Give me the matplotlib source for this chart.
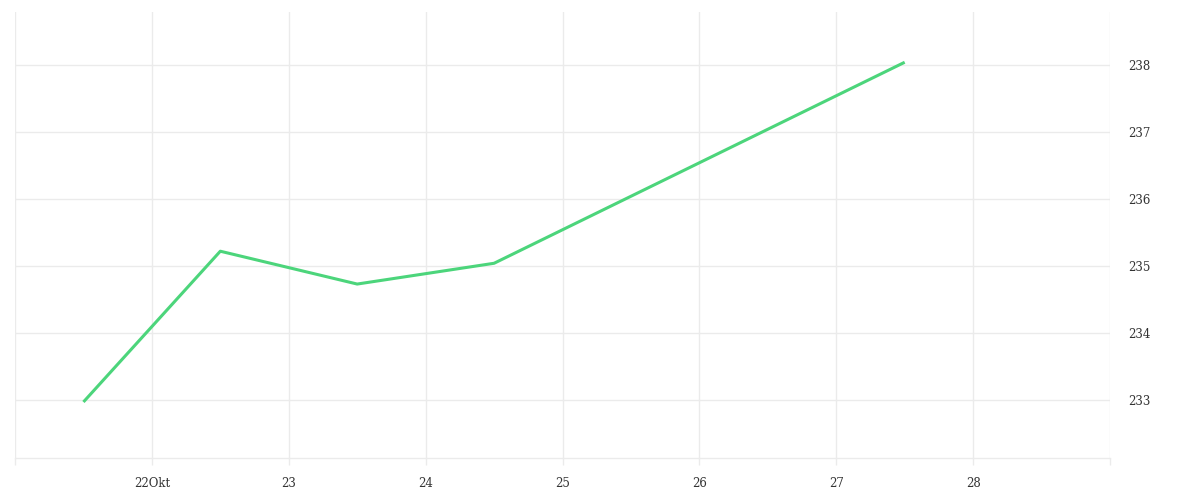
import matplotlib
matplotlib.use("Agg")
import matplotlib.pyplot as plt
from matplotlib.ticker import FixedLocator, FixedFormatter

# data: day of October (12:00 each day) and value
days = [21.5, 22.5, 23.5, 24.5, 27.5]
values = [232.97, 235.22, 234.73, 235.04, 238.04]

x_ticks = [21, 22, 23, 24, 25, 26, 27, 28, 29]
x_labels = ["", "22Okt", "23", "24", "25", "26", "27", "28", ""]
y_ticks = [233, 234, 235, 236, 237, 238]

W, H = 1200, 500
fig = plt.figure(figsize=(W / 100, H / 100), dpi=100)
left, right, top, bottom = 15, 1110, 12, 458
ax = fig.add_axes([left / W, 1 - bottom / H, (right - left) / W, (bottom - top) / H])

grid_c = "#ebebeb"
ax.plot(days, values, color="#4cd57b", lw=2.2, solid_capstyle="butt", zorder=3)

ax.set_xlim(21, 29)
ax.set_ylim(232.134, 238.79)
ax.xaxis.set_major_locator(FixedLocator(x_ticks))
ax.xaxis.set_major_formatter(FixedFormatter(x_labels))
ax.set_yticks(y_ticks)
ax.yaxis.tick_right()
ax.grid(True, color=grid_c, lw=1)
for s in ["top", "left", "right"]:
    ax.spines[s].set_visible(False)
ax.spines["bottom"].set_color(grid_c)
ax.spines["bottom"].set_linewidth(1)
ax.tick_params(axis="x", length=5, color=grid_c, width=1, pad=9,
               labelsize=8.5, labelcolor="#333333")
ax.tick_params(axis="y", length=0, pad=13, labelsize=8.5, labelcolor="#333333")
for lab in ax.get_xticklabels() + ax.get_yticklabels():
    lab.set_family("DejaVu Serif")
for lab in ax.get_yticklabels():
    lab.set_horizontalalignment("left")

fig.savefig("out.png", dpi=100, facecolor="white")
